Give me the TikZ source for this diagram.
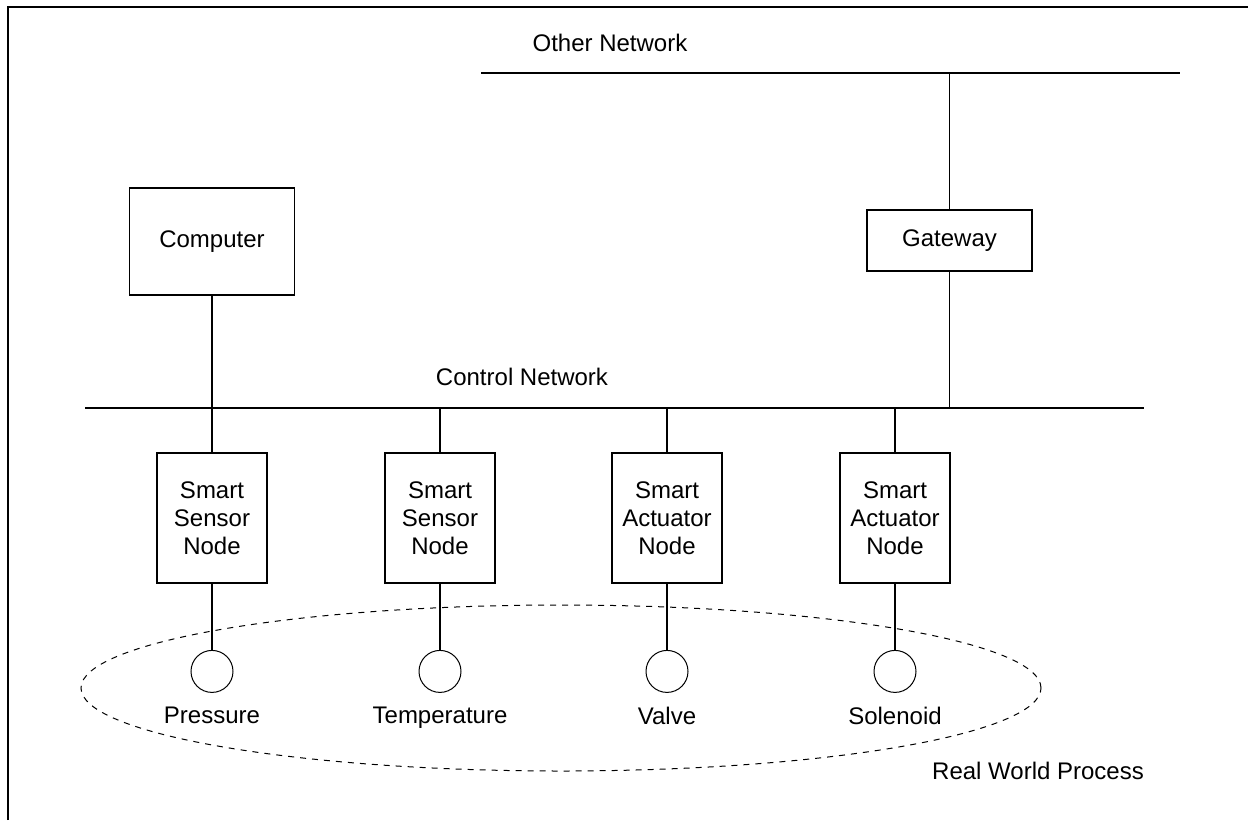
\documentclass[tikz,border=0pt]{standalone}
\usepackage{fontspec}
\setmainfont{Liberation Sans}
\usetikzlibrary{positioning}

\tikzset{
  box/.style={draw, line width=0.9pt, align=center, inner sep=0pt},
  smartbox/.style={box, minimum width=55pt, minimum height=65pt},
  sensor/.style={draw, circle, line width=0.5pt, minimum size=21pt, inner sep=0pt},
  lbl/.style={inner sep=0pt},
  wire/.style={line width=0.9pt},
}

\begin{document}
\begin{tikzpicture}[x=0.5pt, y=-0.5pt, font=\fontsize{12}{14}\selectfont]

    \useasboundingbox (0,0) rectangle (1248,820);

    % Outer frame (only top and left edges show)
    \draw[line width=1.1pt] (8,820) -- (8,7) -- (1248,7);

    % Network buses
    \coordinate (on-l) at (481,73);
    \coordinate (on-r) at (1180,73);
    \coordinate (cn-l) at (85,408);
    \coordinate (cn-r) at (1144,408);
    \draw[wire] (on-l) -- (on-r);
    \draw[wire] (cn-l) -- (cn-r);
    \node[lbl] (other) at (610,43) {Other Network};
    \node[lbl] (control) at (522,377) {Control Network};

    % Computer and gateway
    \node[box, minimum width=82.5pt, minimum height=53.5pt] (computer) at (212,241.5) {Computer};
    \node[box, minimum width=82.5pt, minimum height=30.5pt] (gateway) at (949.5,240.5) {Gateway};
    \draw[wire] (computer.south) -- (computer.south |- cn-l);
    \draw[wire] (gateway.north) -- (gateway.north |- on-l);
    \draw[wire] (gateway.south) -- (gateway.south |- cn-l);

    % Smart nodes with their process points
    \foreach \i/\x/\kind/\what in {1/212/Sensor/Pressure, 2/440/Sensor/Temperature, 3/667/Actuator/Valve, 4/895/Actuator/Solenoid} {
        \node[smartbox] (n\i) at (\x,518) {Smart\\\kind\\Node};
        \node[sensor, below=33pt of n\i] (p\i) {};
        \node[lbl, below=7pt of p\i] (t\i) {\what};
        \draw[wire] (n\i.north) -- (n\i.north |- cn-l);
        \draw[wire] (n\i) -- (p\i);
    }

    % Real world process
    \coordinate (rw) at (561,688);
    \draw[line width=0.5pt, dash pattern=on 3pt off 3pt] (rw) ellipse [x radius=240pt, y radius=41.5pt];
    \node[lbl] (rwp) at (1038,771) {Real World Process};

\end{tikzpicture}
\end{document}
